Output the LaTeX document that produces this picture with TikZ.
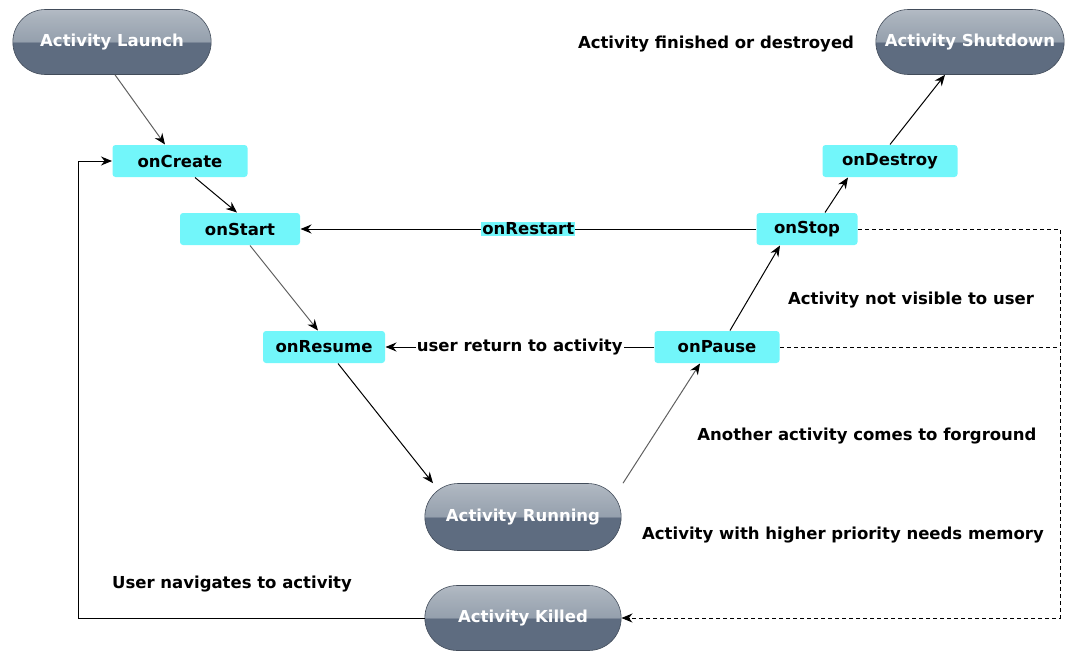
\documentclass[tikz,border=0pt]{standalone}
\usepackage{fontspec}
\setmainfont{DejaVu Sans}
\usetikzlibrary{arrows.meta,shapes.misc}

\definecolor{pilldark}{HTML}{5E6C80}
\definecolor{pillmid}{HTML}{95A0AD}
\definecolor{pilllight}{HTML}{DEE1E5}
\definecolor{callcyan}{HTML}{72F6FA}
\definecolor{linegray}{HTML}{606060}

\pgfdeclareverticalshading{pillshade}{100bp}{%
    color(0bp)=(pilldark); color(30bp)=(pilldark); color(49.5bp)=(pilldark);
    color(50.5bp)=(pillmid); color(70bp)=(pillmid!70!pilllight);
    color(100bp)=(pilllight)}

\begin{document}
\begin{tikzpicture}[%
        x = 1pt,
        y = -1pt,
        line width = 1pt,
        > = {Stealth[length = 11pt, width = 9pt]},
        every node/.style = {%
            font = \fontsize{16.5}{19}\selectfont\bfseries
        },
        pill/.style = {%
            rounded rectangle,
            shading = pillshade,
            draw = pilldark!70!black,
            line width = 0.6pt,
            text = white,
            minimum height = 65pt,
            minimum width = 203pt
        },
        callback/.style = {%
            rectangle,
            rounded corners = 3pt,
            fill = callcyan,
            minimum height = 32pt,
            inner xsep = 4pt
        },
        grayarrow/.style = {%
            draw = linegray,
            ->,
            > = {Stealth[length = 11pt, width = 9pt, black]}
        },
        dashedarrow/.style = {%
            dashed,
            dash pattern = on 4pt off 3pt,
            line width = 0.8pt
        }
    ]
        \useasboundingbox (0, 0) rectangle (1069, 651);

        % states
        \node[pill, minimum width = 205pt] (launch) at (112, 42) {Activity Launch};
        \node[pill, minimum width = 195pt] (shutdown) at (970, 42) {Activity Shutdown};
        \node[pill, minimum height = 67pt] (running) at (523, 517) {Activity Running};
        \node[pill] (killed) at (523, 618) {Activity Killed};

        % callbacks
        \node[callback, minimum width = 135pt] (oncreate) at (180, 161) {onCreate};
        \node[callback, minimum width = 120pt] (onstart) at (240, 229) {onStart};
        \node[callback, minimum width = 122pt] (onresume) at (324, 347) {onResume};
        \node[callback, minimum width = 125pt] (onpause) at (717, 347) {onPause};
        \node[callback, minimum width = 101pt] (onstop) at (807, 229) {onStop};
        \node[callback, minimum width = 135pt] (ondestroy) at (890, 161) {onDestroy};

        % descriptions
        \node (finished) at (716, 44) {Activity finished or destroyed};
        \node (notvisible) at (911, 300) {Activity not visible to user};
        \node (foreground) at (867, 436) {Another activity comes to forground};
        \node (memory) at (843, 535) {Activity with higher priority needs memory};
        \node (navigates) at (232, 584) {User navigates to activity};

        % lifecycle path
        \draw[grayarrow] ([xshift = 3]launch.south) -- ([xshift = -15]oncreate.north);
        \draw[->] ([xshift = 15]oncreate.south) -- ([xshift = -3]onstart.north);
        \draw[grayarrow] ([xshift = 10]onstart.south) -- ([xshift = -6]onresume.north);
        \draw[->] ([xshift = 14]onresume.south) -- ([xshift = -90]running.north);
        \draw[grayarrow] ([xshift = 100]running.north) -- ([xshift = -17]onpause.south);
        \draw[->] ([xshift = 13]onpause.north) -- ([xshift = -27]onstop.south);
        \draw[->] ([xshift = 18]onstop.north) -- ([xshift = -42]ondestroy.south);
        \draw[->] (ondestroy.north) -- ([xshift = -25]shutdown.south);

        % back edges
        \draw[->] (onstop.west) -- node[fill = callcyan, inner sep = 1pt] (onrestart) {onRestart} (onstart.east);
        \draw[->] (onpause.west) -- node[fill = white, inner sep = 1pt] (userreturn) {user return to activity} (onresume.east);

        % killed and restarted
        \coordinate (rightcorner) at (1060, 229);
        \coordinate (pausejoin) at (1060, 347);
        \coordinate (leftcorner) at (78, 618);
        \draw[dashedarrow, ->] (onstop.east) -- (rightcorner) |- (killed.east);
        \draw[dashedarrow] (onpause.east) -- (pausejoin);
        \draw[->] (killed.west) -- (leftcorner) |- (oncreate.west);
    \end{tikzpicture}
\end{document}
